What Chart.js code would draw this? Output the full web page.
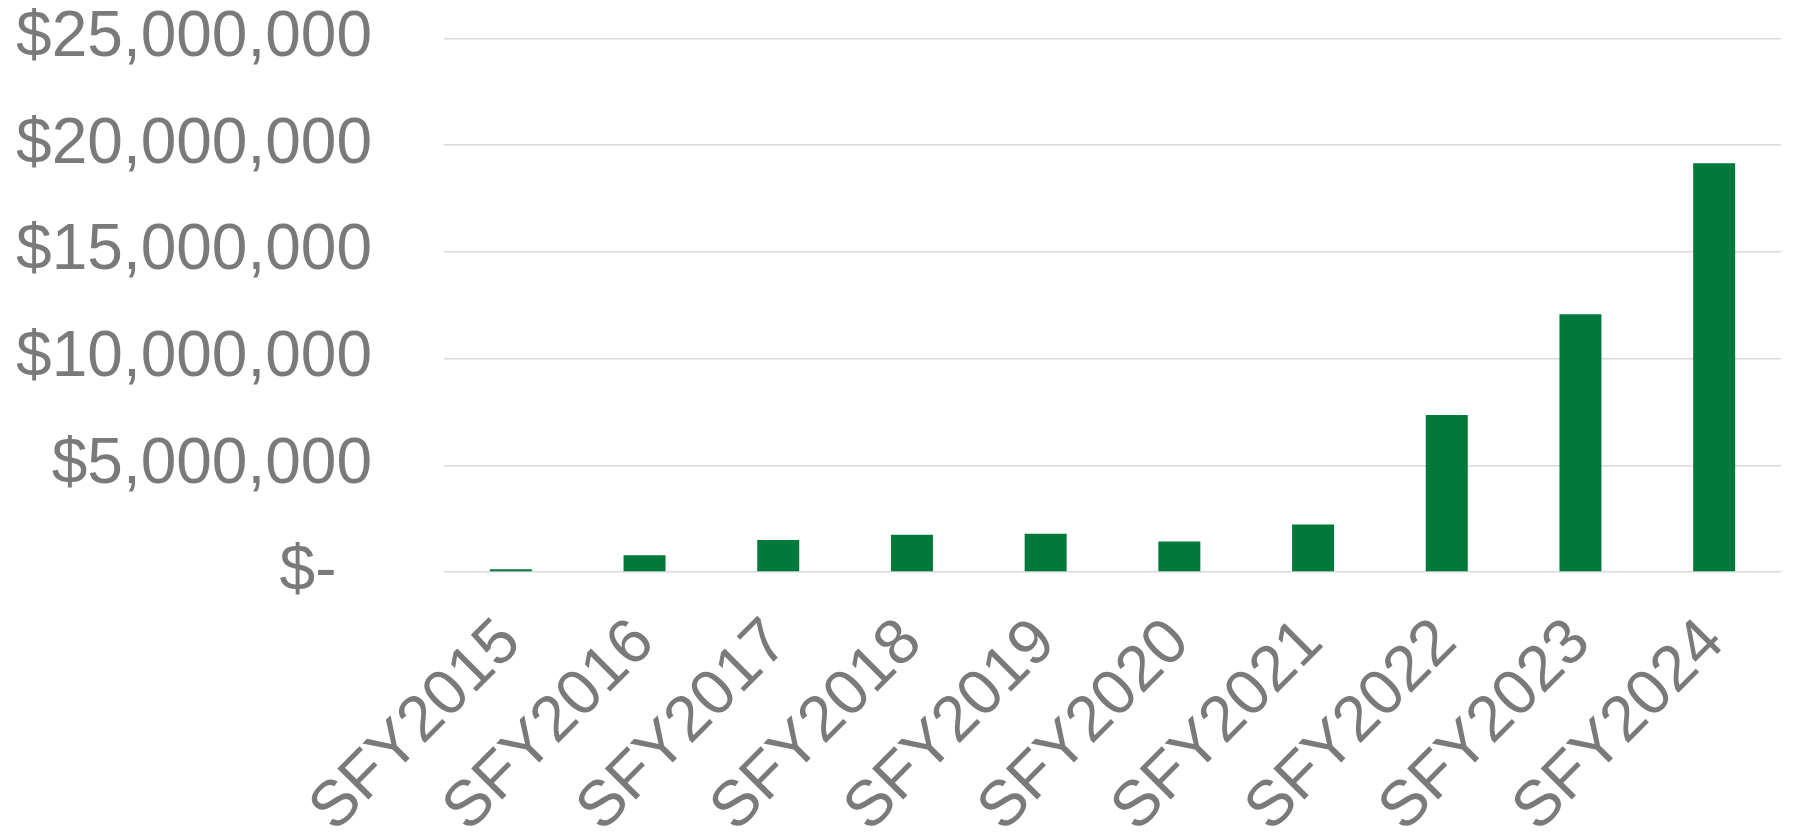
<!DOCTYPE html>
<html>
<head>
<meta charset="utf-8">
<script src="https://cdn.jsdelivr.net/npm/chart.js@4/dist/chart.umd.min.js"></script>
<style>
html,body{margin:0;padding:0;background:#fff;}
#wrap{width:1795px;height:835px;}
</style>
</head>
<body>
<div id="wrap"><canvas id="c" width="1795" height="835"></canvas></div>
<script>
const categories = ["SFY2015","SFY2016","SFY2017","SFY2018","SFY2019","SFY2020","SFY2021","SFY2022","SFY2023","SFY2024"];
const amounts = [125000, 780000, 1500000, 1750000, 1790000, 1430000, 2230000, 7360000, 12080000, 19150000];
const yTicks = [0, 5000000, 10000000, 15000000, 20000000, 25000000];

const textColor = "#7a7a7a";
const fontFamily = "'Liberation Sans', Arial, sans-serif";

new Chart(document.getElementById("c"), {
  type: "bar",
  data: {
    labels: categories,
    datasets: [{
      data: amounts,
      backgroundColor: "#00793A",
      borderWidth: 0,
      categoryPercentage: 1.0,
      barPercentage: 0.314
    }]
  },
  options: {
    responsive: false,
    animation: false,
    devicePixelRatio: 1,
    layout: { padding: { left: 17, right: 14, top: -1, bottom: 0 } },
    plugins: { legend: { display: false }, tooltip: { enabled: false } },
    scales: {
      x: {
        grid: { display: false, drawTicks: false },
        border: { display: false },
        afterFit: (axis) => { axis.height = 263; axis.paddingLeft = 0; axis.paddingRight = 0; },
        ticks: {
          color: textColor,
          font: { family: fontFamily, size: 64 },
          minRotation: 45,
          maxRotation: 45,
          padding: 33,
          autoSkip: false
        }
      },
      y: {
        min: 0,
        max: 25000000,
        afterBuildTicks: (axis) => { axis.ticks = yTicks.map(v => ({ value: v })); },
        afterFit: (axis) => { axis.width = 427; },
        grid: { color: "#d9d9d9", lineWidth: 1.5, drawTicks: true, tickLength: 72, tickColor: "rgba(0,0,0,0)" },
        border: { display: false },
        ticks: {
          color: textColor,
          font: { family: fontFamily, size: 64 },
          padding: 0,
          callback: (v) => v === 0 ? "$-  " : "$" + Number(v).toLocaleString("en-US")
        }
      }
    }
  }
});
</script>
</body>
</html>
